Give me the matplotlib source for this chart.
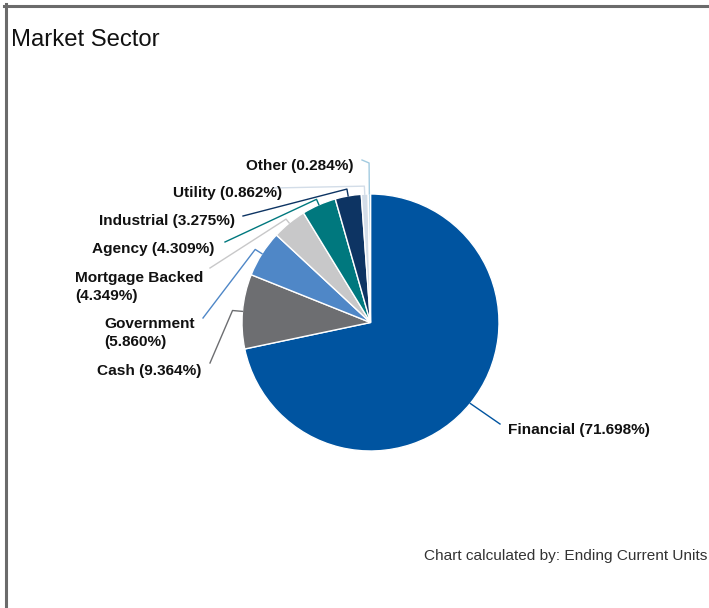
import numpy as np
import matplotlib
matplotlib.use("Agg")
import matplotlib.pyplot as plt
from matplotlib.lines import Line2D

plt.rcParams['font.family'] = ['Liberation Sans', 'DejaVu Sans']

# ---- data ----
categories = ["Financial", "Cash", "Government", "Mortgage Backed", "Agency",
              "Industrial", "Utility", "Other"]
values = [71.698, 9.364, 5.860, 4.349, 4.309, 3.275, 0.862, 0.284]
label_texts = ["Financial (71.698%)", "Cash (9.364%)", "Government\n(5.860%)",
               "Mortgage Backed\n(4.349%)", "Agency (4.309%)", "Industrial (3.275%)",
               "Utility (0.862%)", "Other (0.284%)"]
colors = ["#0054a0", "#6d6e71", "#4f87c7", "#c8c8c9", "#00787e",
          "#0d3463", "#d3dde8", "#a3cbe0"]

# ---- layout (pixel coordinates, y measured from top) ----
W, H = 709, 608
cx, cy, R = 370.5, 322.5, 128.5
# text anchor (x, y, ha)
text_pos = [(508, 430, 'left'), (201, 371, 'right'), (104, 333, 'left'),
            (75, 287, 'left'), (214, 249, 'right'), (235, 221, 'right'),
            (282, 193, 'right'), (354, 166, 'right')]
# connector end points and elbow radial extension
conn_end = [(500, 424), (210, 363), (203, 318), (210, 268), (225, 242),
            (243, 216), (273, 188), (362, 160)]
elbow_ext = [0, 10, 8, 5, 6, 7, 8, 31]

fig = plt.figure(figsize=(W / 100, H / 100), dpi=100)
ax = fig.add_axes([0, 0, 1, 1])

def Y(y):
    return H - y

wedges, _ = ax.pie(values, colors=colors, startangle=90, counterclock=False,
                   center=(cx, Y(cy)), radius=R,
                   wedgeprops=dict(edgecolor='white', linewidth=1.0))
ax.set_xlim(0, W)
ax.set_ylim(0, H)
ax.set_aspect('equal')
ax.axis('off')

total = sum(values)
cum = 0.0
for i, v in enumerate(values):
    mid = (cum + v / 2) / total * 360.0  # clockwise from top
    cum += v
    th = np.deg2rad(mid)
    dx, dy = np.sin(th), np.cos(th)
    x0, y0 = cx + R * dx, Y(cy) + R * dy
    x1, y1 = cx + (R + elbow_ext[i]) * dx, Y(cy) + (R + elbow_ext[i]) * dy
    ex, ey = conn_end[i]
    ax.plot([x0, x1, ex], [y0, y1, Y(ey)], color=colors[i], lw=1.0,
            solid_joinstyle='round', zorder=1)
    tx, ty, ha = text_pos[i]
    ax.text(tx, Y(ty), label_texts[i], ha=ha, va='center', fontsize=11.1,
            fontweight='bold', color='#111111', linespacing=1.38,
            multialignment='left')

fig.text(11 / W, 1 - 40 / H, "Market Sector", ha='left', va='center',
         fontsize=17.2, color='#111111')
fig.text(707 / W, 1 - 556 / H, "Chart calculated by: Ending Current Units",
         ha='right', va='center', fontsize=11.1, color='#333333')

# frame (top and left)
fig.add_artist(Line2D([4 / W, 1], [1 - 5.5 / H, 1 - 5.5 / H], color='#6b6b6b',
                      lw=2.2, transform=fig.transFigure))
fig.add_artist(Line2D([5.5 / W, 5.5 / W], [0, 1 - 4 / H], color='#6b6b6b',
                      lw=2.2, transform=fig.transFigure))

fig.savefig("out.png", dpi=100)
